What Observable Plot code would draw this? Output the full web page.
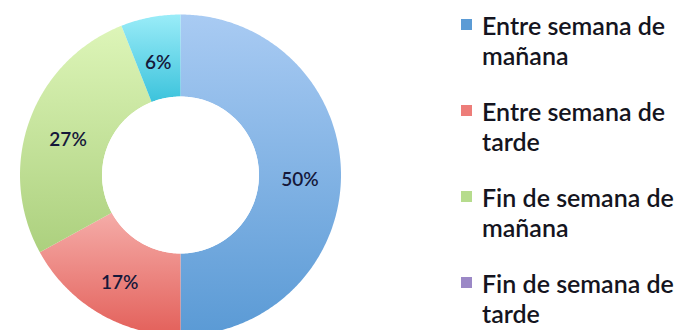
<!DOCTYPE html>
<html>
<head>
<meta charset="utf-8">
<script src="https://cdn.jsdelivr.net/npm/d3@7"></script>
<script src="https://cdn.jsdelivr.net/npm/@observablehq/plot@0.6"></script>
<style>
  html, body { margin: 0; padding: 0; background: #fff; }
  #wrap { position: relative; width: 683px; height: 330px; overflow: hidden; font-family: Lato, "Open Sans", sans-serif; }
  #chart { position: absolute; left: 0; top: 0; }
  #legend { position: absolute; left: 0; top: 0; }
  .item { position: absolute; left: 461px; width: 222px; }
  .sw { position: absolute; left: 0; top: 9px; width: 11px; height: 11px; }
  .lab { position: absolute; left: 21px; top: 0; font-size: 25px; font-weight: 600; line-height: 30px; color: #141420; width: 210px; white-space: normal; }
</style>
</head>
<body>
<div id="wrap"><div id="chart"></div><div id="legend"></div></div>
<script>
// Data
const categories = ["Entre semana de mañana", "Entre semana de tarde", "Fin de semana de mañana", "Fin de semana de tarde", "Otro"];
const values = [50, 17, 27, 0, 6];
const legendCount = 4; // only the first four entries are visible in the legend
const colorsTop = ["#a9cbf3", "#f5aca8", "#ddf5b8", "#b5a6d6", "#9aecf8"];
const colorsBottom = ["#5a9ad5", "#e3605a", "#acd07e", "#8f7cbb", "#3cc3dc"];
const swatchColors = ["#5b9bd5", "#ed7d79", "#b6dc8d", "#9b88c6", "#4bc8e0"];

const innerRatio = 0.489;
const pie = d3.pie().sort(null).value(d => d.value)(categories.map((c, i) => ({cat: c, value: values[i], i})));

// polygon points for each slice
const slices = pie.map(p => {
  const pts = [];
  const n = Math.max(2, Math.ceil((p.endAngle - p.startAngle) / 0.01));
  for (let k = 0; k <= n; k++) {
    const a = p.startAngle + (p.endAngle - p.startAngle) * k / n;
    pts.push({x: Math.sin(a), y: Math.cos(a)});
  }
  for (let k = n; k >= 0; k--) {
    const a = p.startAngle + (p.endAngle - p.startAngle) * k / n;
    pts.push({x: innerRatio * Math.sin(a), y: innerRatio * Math.cos(a)});
  }
  return {i: p.data.i, value: p.data.value, pts, mid: (p.startAngle + p.endAngle) / 2};
});

const labels = slices.filter(s => s.value > 0).map(s => ({
  x: (1 + innerRatio) / 2 * Math.sin(s.mid),
  y: (1 + innerRatio) / 2 * Math.cos(s.mid),
  text: s.value + "%"
}));

const defs = () => {
  const ns = "http://www.w3.org/2000/svg";
  const d = document.createElementNS(ns, "defs");
  colorsTop.forEach((c, i) => {
    const g = document.createElementNS(ns, "linearGradient");
    g.setAttribute("id", "g" + i);
    g.setAttribute("x1", "0"); g.setAttribute("y1", "0");
    g.setAttribute("x2", "0"); g.setAttribute("y2", "1");
    const s1 = document.createElementNS(ns, "stop");
    s1.setAttribute("offset", "0"); s1.setAttribute("stop-color", c);
    const s2 = document.createElementNS(ns, "stop");
    s2.setAttribute("offset", "1"); s2.setAttribute("stop-color", colorsBottom[i]);
    g.append(s1, s2);
    d.append(g);
  });
  const f = document.createElementNS(ns, "filter");
  f.setAttribute("id", "blur");
  f.setAttribute("x", "-20%"); f.setAttribute("y", "-20%");
  f.setAttribute("width", "140%"); f.setAttribute("height", "140%");
  const b = document.createElementNS(ns, "feGaussianBlur");
  b.setAttribute("stdDeviation", "1.6");
  f.append(b);
  d.append(f);
  return d;
};

const plot = Plot.plot({
  width: 440,
  height: 330,
  x: {domain: [-1, 1], range: [19.5, 340.5], axis: null},
  y: {domain: [-1, 1], range: [335, 14], axis: null},
  marks: [
    defs,
    ...slices.filter(s => s.value > 0).map(s =>
      Plot.line(s.pts, {x: "x", y: "y", fill: `url(#g${s.i})`, stroke: "none"})
    ),
    Plot.dot([{x: 0, y: 0.012}], {x: "x", y: "y", r: 79, fill: "none", stroke: "#6a6a6a", strokeWidth: 2.5, strokeOpacity: 0.45, filter: "url(#blur)"}),
    Plot.dot([{x: 0, y: 0}], {x: "x", y: "y", r: 78.5, fill: "#fff", stroke: "none"}),
    Plot.text(labels, {x: "x", y: "y", text: "text", dy: 5, fontSize: 19, fontWeight: 600, fill: "#15183a", fontFamily: "Lato, 'Open Sans', sans-serif"})
  ]
});
document.getElementById("chart").append(plot);

// Legend
const tops = [10, 96, 182, 268];
const legend = document.getElementById("legend");
categories.slice(0, legendCount).forEach((c, i) => {
  const it = document.createElement("div");
  it.className = "item";
  it.style.top = tops[i] + "px";
  const sw = document.createElement("div");
  sw.className = "sw";
  sw.style.background = swatchColors[i];
  const lab = document.createElement("div");
  lab.className = "lab";
  lab.textContent = c;
  it.append(sw, lab);
  legend.append(it);
});
</script>
</body>
</html>
